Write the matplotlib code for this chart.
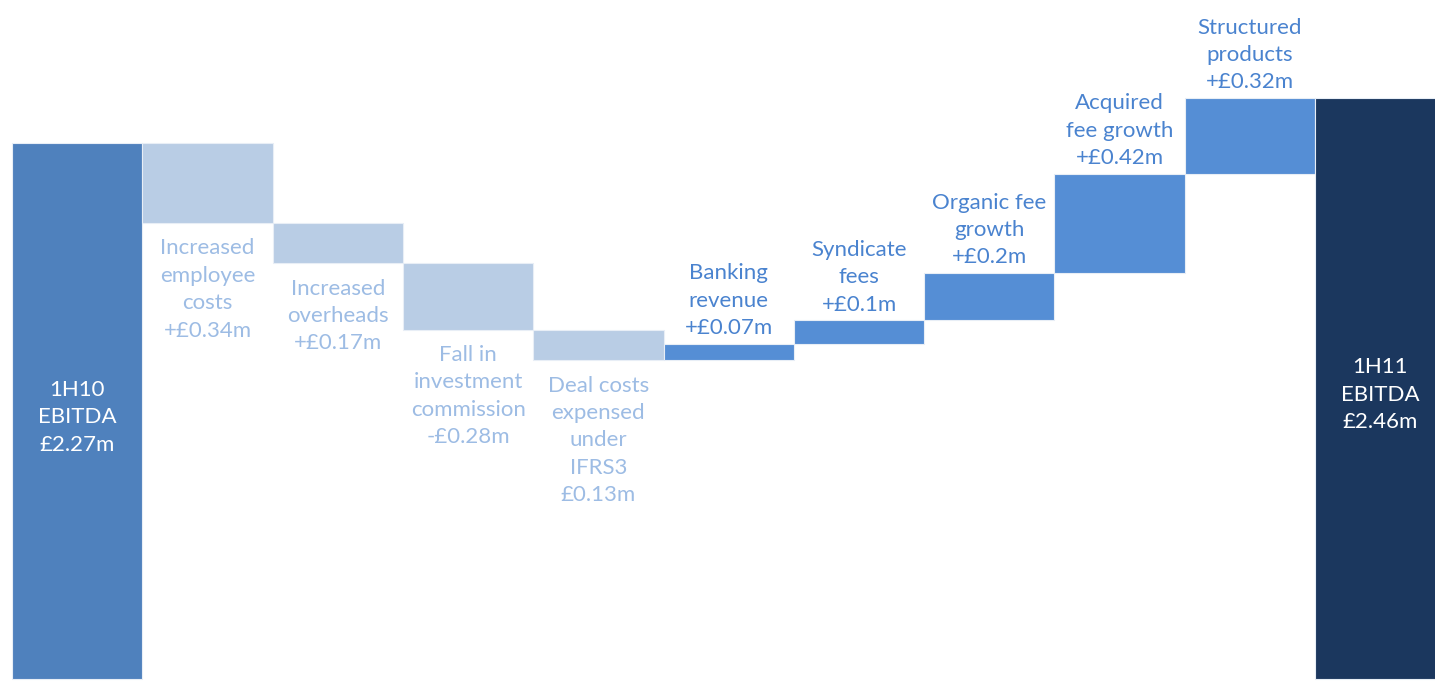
import matplotlib.pyplot as plt
import numpy as np

plt.rcParams['font.family'] = ['Lato', 'DejaVu Sans']

# waterfall steps (first and last are totals)
labels = ['1H10\nEBITDA\n£2.27m',
          'Increased\nemployee\ncosts\n+£0.34m',
          'Increased\noverheads\n+£0.17m',
          'Fall in\ninvestment\ncommission\n-£0.28m',
          'Deal costs\nexpensed\nunder\nIFRS3\n£0.13m',
          'Banking\nrevenue\n+£0.07m',
          'Syndicate\nfees\n+£0.1m',
          'Organic fee\ngrowth\n+£0.2m',
          'Acquired\nfee growth\n+£0.42m',
          'Structured\nproducts\n+£0.32m',
          '1H11\nEBITDA\n£2.46m']
values = [2.27, -0.34, -0.17, -0.28, -0.13, 0.07, 0.1, 0.2, 0.42, 0.32, 2.46]

c_start = '#4f81bd'
c_neg = '#b9cde5'
c_pos = '#558ed5'
c_end = '#1b375e'
t_neg = '#9dbce4'
t_pos = '#4a83cf'
ls = 1.46

fig = plt.figure(figsize=(14.35, 6.81), dpi=100)
ax = fig.add_axes([0, 0, 1, 1])

x = np.arange(len(values))
n = len(values)
level = 0.0
for i, v in enumerate(values):
    if i == 0 or i == n - 1:
        col = c_start if i == 0 else c_end
        level = v
        ax.bar(x[i], v, width=1.0, color=col,
               edgecolor='#e8eef6', linewidth=0.8)
        ax.annotate(labels[i], (x[i], v / 2), xytext=(0, -4.5),
                    textcoords='offset points', ha='center', va='center',
                    color='white', fontsize=16, linespacing=ls)
    elif v < 0:
        bottom = level + v
        ax.bar(x[i], -v, bottom=bottom, width=1.0, color=c_neg,
               edgecolor='#e8eef6', linewidth=0.8)
        ax.annotate(labels[i], (x[i], bottom), xytext=(0, -11),
                    textcoords='offset points', ha='center', va='top',
                    color=t_neg, fontsize=16, linespacing=ls)
        level = bottom
    else:
        ax.bar(x[i], v, bottom=level, width=1.0, color=c_pos,
               edgecolor='#e8eef6', linewidth=0.8)
        ax.annotate(labels[i], (x[i], level + v), xytext=(0, 4),
                    textcoords='offset points', ha='center', va='bottom',
                    color=t_pos, fontsize=16, linespacing=ls)
        level = level + v

ax.set_xlim(-0.592, 10.42)
ax.set_ylim(-0.008, 2.875)
ax.axis('off')

fig.savefig('out.png', dpi=100, facecolor='white')
